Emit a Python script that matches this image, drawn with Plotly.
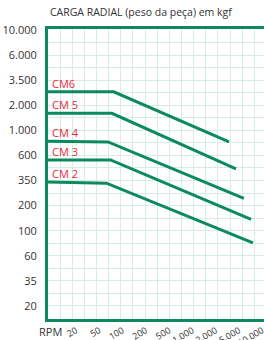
import numpy as np
import plotly.graph_objects as go

# ---- data ----
rpm_ticks = [20, 50, 100, 200, 500, 1000, 2000, 5000, 10000]
rpm_labels = ["20", "50", "100", "200", "500", "1.000", "2.000", "5.000", "10.000"]
kgf_ticks = [20, 35, 60, 100, 200, 350, 600, 1000, 2000, 3500, 6000, 10000]
kgf_labels = ["20", "35", "60", "100", "200", "350", "600", "1.000", "2.000", "3.500", "6.000", "10.000"]

series_names = ["CM6", "CM 5", "CM 4", "CM 3", "CM 2"]
# RPM points (0 = start at axis), and radial load kgf
cm6_rpm = [0, 77, 3380]
cm6_kgf = [2700, 2700, 790]
cm5_rpm = [0, 73, 4440]
cm5_kgf = [1600, 1600, 450]
cm4_rpm = [0, 65, 5780]
cm4_kgf = [800, 790, 235]
cm3_rpm = [0, 70, 7170]
cm3_kgf = [545, 545, 137]
cm2_rpm = [0, 62, 7580]
cm2_kgf = [338, 330, 78]

# ---- nominal scales ----
x_tick_pos = [2.3 + 1.92 * k for k in range(len(rpm_ticks))]
y_tick_pos = list(range(len(kgf_ticks)))


def nominal(values, ticks, pos, zero_pos=None):
    lt = np.log10(ticks)
    out = []
    for v in values:
        if v <= 0 and zero_pos is not None:
            out.append(zero_pos)
            continue
        lv = np.log10(v)
        i = int(np.clip(np.searchsorted(lt, lv) - 1, 0, len(lt) - 2))
        f = (lv - lt[i]) / (lt[i + 1] - lt[i])
        out.append(pos[i] + f * (pos[i + 1] - pos[i]))
    return out


green = "#0b8a5e"
grid = "#d6ece4"
red = "#e8283a"

fig = go.Figure()
all_series = [(cm6_rpm, cm6_kgf), (cm5_rpm, cm5_kgf), (cm4_rpm, cm4_kgf),
              (cm3_rpm, cm3_kgf), (cm2_rpm, cm2_kgf)]
for name, (r, k) in zip(series_names, all_series):
    xs = nominal(r, rpm_ticks, x_tick_pos, zero_pos=0)
    ys = nominal(k, kgf_ticks, y_tick_pos)
    fig.add_trace(go.Scatter(x=xs, y=ys, mode="lines", name=name,
                             line=dict(color=green, width=3), showlegend=False,
                             hoverinfo="skip"))
    fig.add_annotation(x=0, y=ys[0], text=name, showarrow=False,
                       xanchor="left", yanchor="bottom", xshift=2, yshift=-1,
                       font=dict(color=red, size=11, family="Open Sans"))

fig.add_annotation(xref="paper", yref="paper", x=0, y=1, yshift=8,
                   xanchor="left", yanchor="bottom",
                   text="CARGA RADIAL (peso da peça) em kgf", showarrow=False,
                   font=dict(size=10.5, color="#333333", family="Open Sans"))
fig.add_annotation(xref="paper", yref="paper", x=0, y=0, xshift=-11, yshift=-12,
                   xanchor="left", yanchor="middle", text="RPM", showarrow=False,
                   font=dict(size=11, color="#333333", family="Open Sans"))

fig.update_xaxes(range=[0, 17.8], tickmode="array", tickvals=x_tick_pos,
                 ticktext=rpm_labels, tickangle=-30, showgrid=False,
                 automargin=False, ticklabeloverflow="allow",
                 zeroline=False, showline=True, linecolor=green, linewidth=3,
                 mirror=True, ticks="", tickfont=dict(size=9, color="#333333", family="Open Sans"),
                 minor=dict(tickmode="linear", tick0=0, dtick=1, showgrid=True,
                            gridcolor=grid, gridwidth=1))
fig.update_yaxes(range=[-0.52, 11.04], tickmode="array", tickvals=y_tick_pos,
                 ticktext=kgf_labels, showgrid=True, gridcolor=grid, gridwidth=1,
                 automargin=False,
                 zeroline=False, showline=True, linecolor=green, linewidth=3,
                 ticks="", ticklabelstandoff=6,
                 tickfont=dict(size=11, color="#333333", family="Open Sans"),
                 minor=dict(tickmode="linear", tick0=0.5, dtick=1, showgrid=True,
                            gridcolor=grid, gridwidth=1))

fig.update_layout(width=264, height=340, margin=dict(l=48, r=0, t=29, b=21),
                  plot_bgcolor="white", paper_bgcolor="white")

fig.write_html("out.html", config={"displayModeBar": False},
               post_script="document.body.style.margin='0';document.body.style.overflow='hidden';")
